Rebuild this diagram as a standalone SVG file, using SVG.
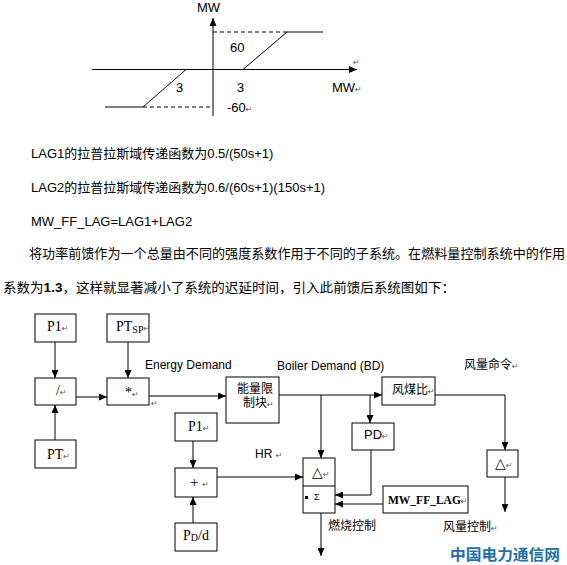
<svg xmlns="http://www.w3.org/2000/svg" width="567" height="565" viewBox="0 0 567 565">
<style>
.ln{stroke:#000;stroke-width:1;fill:none}
.bx{stroke:#000;stroke-width:1;fill:#fff}
.sans{font-family:"Liberation Sans",Arial,sans-serif;fill:#000}
.serif{font-family:"Liberation Serif","Times New Roman",serif;fill:#000}
.cjk{font-family:"Liberation Sans","Noto Sans CJK SC",sans-serif;fill:#000}
.rt{font-family:"DejaVu Sans",sans-serif;font-size:8px;fill:#555;font-weight:normal}
.ar{marker-end:url(#ah)}
</style>
<defs>
<marker id="ah" markerUnits="userSpaceOnUse" markerWidth="8" markerHeight="7" refX="8" refY="3.5" orient="auto">
<path d="M0,0 L8,3.5 L0,7 z" fill="#000"/>
</marker>
</defs>
<rect width="567" height="565" fill="#fff"/>

<g id="graph">
<line class="ln ar" x1="213" y1="116" x2="213" y2="18"/>
<line class="ln ar" x1="92" y1="69.5" x2="357" y2="69.5"/>
<line class="ln" x1="213" y1="32" x2="287" y2="32" stroke-dasharray="4,3"/>
<line class="ln" x1="287" y1="32" x2="323" y2="32"/>
<line class="ln" x1="243" y1="69.5" x2="287" y2="32" stroke="#555"/>
<line class="ln" x1="186" y1="69.5" x2="143" y2="107" stroke="#555"/>
<line class="ln" x1="143" y1="107" x2="213" y2="107" stroke-dasharray="4,3"/>
<line class="ln" x1="105" y1="107" x2="143" y2="107"/>
<text class="sans" font-size="13" x="197" y="12">MW</text>
<text class="rt" x="353" y="65">↵</text>
<text class="sans" font-size="13" x="230" y="52">60</text>
<text class="sans" font-size="13" x="176" y="92">3</text>
<text class="sans" font-size="13" x="237" y="92">3</text>
<text class="sans" font-size="13" x="332" y="92">MW<tspan class="rt">↵</tspan></text>
<text class="sans" font-size="13" x="227" y="112">-60<tspan class="rt">↵</tspan></text>
</g>

<g id="text">
<text class="cjk" font-size="13" x="31" y="158">LAG1的拉普拉斯域传递函数为0.5/(50s+1)</text>
<text class="cjk" font-size="13" x="31" y="192">LAG2的拉普拉斯域传递函数为0.6/(60s+1)(150s+1)</text>
<text class="cjk" font-size="13" x="31" y="226">MW_FF_LAG=LAG1+LAG2</text>
<text class="cjk" font-size="13" x="29" y="258" textLength="536" lengthAdjust="spacingAndGlyphs">将功率前馈作为一个总量由不同的强度系数作用于不同的子系统。在燃料量控制系统中的作用</text>
<text class="cjk" font-size="13" x="3" y="292" textLength="452" lengthAdjust="spacingAndGlyphs">系数为<tspan font-weight="bold">1.3</tspan>，这样就显著减小了系统的迟延时间，引入此前馈后系统图如下：</text>
</g>

<g id="connectors">
<line class="ln ar" x1="55" y1="342" x2="55" y2="378"/>
<line class="ln ar" x1="55" y1="440" x2="55" y2="405"/>
<line class="ln ar" x1="76" y1="397" x2="107" y2="397"/>
<line class="ln ar" x1="128" y1="342" x2="128" y2="378"/>
<line class="ln ar" x1="149" y1="396" x2="226" y2="396"/>
<line class="ln ar" x1="279" y1="395" x2="382" y2="395"/>
<line class="ln ar" x1="321" y1="395" x2="321" y2="458"/>
<line class="ln ar" x1="370" y1="395" x2="370" y2="423"/>
<polyline class="ln ar" points="435,395 505,395 505,450"/>
<line class="ln ar" x1="505" y1="477" x2="505" y2="512"/>
<line class="ln ar" x1="193" y1="441" x2="193" y2="468"/>
<line class="ln ar" x1="193" y1="523" x2="193" y2="497"/>
<line class="ln ar" x1="217" y1="477" x2="303" y2="477"/>
<polyline class="ln ar" points="371,450 371,495 335,495"/>
<line class="ln ar" x1="383" y1="504" x2="335" y2="504"/>
<line class="ln ar" x1="321" y1="513" x2="321" y2="556"/>
</g>

<g id="labels">
<text class="sans" font-size="12" x="145" y="369">Energy Demand</text>
<text class="rt" x="151" y="406">↵</text>
<text class="sans" font-size="12" x="277" y="370">Boiler Demand (BD)</text>
<text class="cjk" font-size="12" x="464" y="369">风量命令<tspan class="rt">↵</tspan></text>
<text class="sans" font-size="12" x="255" y="458">HR <tspan class="rt">↵</tspan></text>
<text class="cjk" font-size="12" x="328" y="530">燃烧控制</text>
<text class="cjk" font-size="12" x="443" y="531">风量控制<tspan class="rt">↵</tspan></text>
</g>

<g id="n_p1a"><rect class="bx" x="35" y="314" width="41" height="28"/><text class="serif" font-size="14" x="47" y="331">P1<tspan class="rt">↵</tspan></text></g>
<g id="n_div"><rect class="bx" x="35" y="378" width="41" height="27"/><text class="serif" font-size="14" x="56" y="395">/<tspan class="rt">↵</tspan></text></g>
<g id="n_pt"><rect class="bx" x="35" y="440" width="41" height="28"/><text class="serif" font-size="14" x="47" y="459">PT<tspan class="rt">↵</tspan></text></g>
<g id="n_ptsp"><rect class="bx" x="107" y="314" width="42" height="28"/><text class="serif" font-size="14" x="116" y="331">PT<tspan font-size="10" dy="2">SP</tspan><tspan class="rt" dy="-2">↵</tspan></text></g>
<g id="n_mul"><rect class="bx" x="107" y="378" width="42" height="27"/><text class="serif" font-size="14" x="125" y="397">*<tspan class="rt">↵</tspan></text></g>
<g id="n_elb"><rect class="bx" x="226" y="377" width="53" height="46"/><text class="cjk" font-size="12" x="237" y="393">能量限</text><text class="cjk" font-size="12" x="243" y="407">制块<tspan class="rt">↵</tspan></text></g>
<g id="n_fmb"><rect class="bx" x="382" y="377" width="53" height="28"/><text class="cjk" font-size="12" x="392" y="394">风煤比<tspan class="rt">↵</tspan></text></g>
<g id="n_pd"><rect class="bx" x="352" y="423" width="42" height="27"/><text class="sans" font-size="13" x="364" y="439">PD<tspan class="rt">↵</tspan></text></g>
<g id="n_p1b"><rect class="bx" x="175" y="413" width="42" height="28"/><text class="serif" font-size="14" x="188" y="431">P1<tspan class="rt">↵</tspan></text></g>
<g id="n_plus"><rect class="bx" x="175" y="468" width="42" height="29"/><text class="serif" font-size="15" x="190" y="487">+ <tspan class="rt">↵</tspan></text></g>
<g id="n_pdd"><rect class="bx" x="175" y="523" width="42" height="28"/><text class="serif" font-size="14" x="183" y="540">P<tspan font-size="10" dy="1">D</tspan><tspan dy="-1">/d</tspan></text></g>
<g id="n_sum"><rect class="bx" x="303" y="458" width="32" height="55"/><line class="ln" x1="303" y1="486" x2="335" y2="486"/><text class="sans" font-size="14" x="312" y="477">△<tspan class="rt">↵</tspan></text><text class="sans" font-size="9" x="314" y="500">Σ</text><rect x="305" y="496" width="3" height="3" fill="#000"/></g>
<g id="n_mwff"><rect class="bx" x="383" y="486" width="85" height="27"/><text class="serif" font-size="11.5" font-weight="bold" x="388" y="504">MW_FF_LAG<tspan class="rt">↵</tspan></text></g>
<g id="n_d2"><rect class="bx" x="487" y="450" width="31" height="27"/><text class="sans" font-size="14" x="495" y="468">△<tspan class="rt">↵</tspan></text></g>

<text font-family="'Noto Sans CJK SC',sans-serif" font-size="15" font-weight="bold" fill="#1e70a8" x="450" y="560" textLength="110" lengthAdjust="spacingAndGlyphs">中国电力通信网</text>
</svg>
